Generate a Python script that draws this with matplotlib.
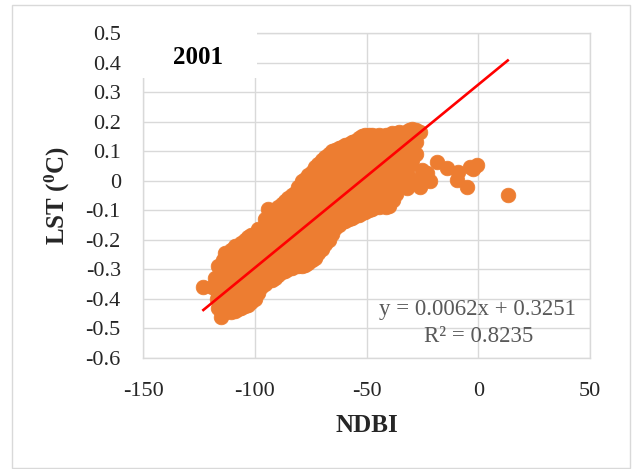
import numpy as np
import matplotlib.pyplot as plt
from matplotlib.patches import Rectangle

plt.rcParams["font.family"] = ["Liberation Serif", "DejaVu Serif"]
plt.rcParams["mathtext.fontset"] = "custom"
plt.rcParams["mathtext.rm"] = "Liberation Serif"
plt.rcParams["mathtext.bf"] = "Liberation Serif:bold"

# -----------------------------------------------------------------------------
# Data (column by column across the cloud)
# -----------------------------------------------------------------------------
ndbi = [
    -123, -119,
    -118, -117, -117,
    -116.5, -116.5, -116.5, -116.5,
    -115, -115, -115, -114, -114,
    -113.5, -113.5, -113.5, -113.5, -113.5, -113.5,
    -112, -112, -112, -112, -112,
    -110.5, -110.5, -110.5, -110.5, -110.5, -110.5,
    -109, -109, -109, -109, -109, -109,
    -107.5, -107.5, -107.5, -107.5, -107.5, -107.5,
    -106, -106, -106, -106, -106, -106,
    -104.5, -104.5, -104.5, -104.5, -104.5, -104.5,
    -103, -103, -103, -103, -103, -103,
    -101.5, -101.5, -101.5, -101.5, -101.5, -101.5,
    -100, -100, -100, -100, -100, -100,
    -98.5, -98.5, -98.5, -98.5, -98.5, -98.5,
    -97, -97, -97, -97, -97,
    -95.5, -95.5, -95.5, -95.5, -95.5, -95.5,
    -94, -94, -94, -94, -94, -94,
    -92.5, -92.5, -92.5, -92.5, -92.5, -92.5,
    -91, -91, -91, -91, -91, -91,
    -89.5, -89.5, -89.5, -89.5, -89.5, -89.5,
    -88, -88, -88, -88, -88, -88,
    -86.5, -86.5, -86.5, -86.5, -86.5, -86.5,
    -85, -85, -85, -85, -85, -85,
    -83.5, -83.5, -83.5, -83.5, -83.5, -83.5,
    -82, -82, -82, -82, -82, -82,
    -80.5, -80.5, -80.5, -80.5, -80.5, -80.5, -80.5,
    -79, -79, -79, -79, -79, -79, -79,
    -77.5, -77.5, -77.5, -77.5, -77.5, -77.5, -77.5,
    -76, -76, -76, -76, -76, -76, -76,
    -74.5, -74.5, -74.5, -74.5, -74.5, -74.5, -74.5,
    -73, -73, -73, -73, -73, -73, -73,
    -71.5, -71.5, -71.5, -71.5, -71.5, -71.5, -71.5,
    -70, -70, -70, -70, -70, -70, -70,
    -68.5, -68.5, -68.5, -68.5, -68.5, -68.5, -68.5,
    -67, -67, -67, -67, -67, -67, -67,
    -65.5, -65.5, -65.5, -65.5, -65.5, -65.5, -65.5,
    -64, -64, -64, -64, -64, -64, -64,
    -62.5, -62.5, -62.5, -62.5, -62.5, -62.5, -62.5,
    -61, -61, -61, -61, -61, -61,
    -59.5, -59.5, -59.5, -59.5, -59.5, -59.5, -59.5,
    -58, -58, -58, -58, -58, -58,
    -56.5, -56.5, -56.5, -56.5, -56.5, -56.5, -56.5,
    -55, -55, -55, -55, -55, -55,
    -53.5, -53.5, -53.5, -53.5, -53.5, -53.5, -53.5,
    -52, -52, -52, -52, -52, -52,
    -50.5, -50.5, -50.5, -50.5, -50.5, -50.5, -50.5,
    -49, -49, -49, -49, -49, -49,
    -47.5, -47.5, -47.5, -47.5, -47.5, -47.5, -47.5,
    -46, -46, -46, -46, -46, -46,
    -44.5, -44.5, -44.5, -44.5, -44.5, -44.5, -44.5,
    -43, -43, -43, -43, -43, -43,
    -41.5, -41.5, -41.5, -41.5, -41.5, -41.5, -41.5,
    -40, -40, -40, -40, -40, -40,
    -38.5, -38.5, -38.5, -38.5, -38.5, -38.5,
    -38, -37, -37, -37, -37, -37,
    -35.5, -35.5, -35.5, -35.5, -35.5,
    -34, -34, -34, -34,
    -32.5, -32.5, -32.5, -32.5,
    -31, -31, -31, -31,
    -29.5, -29.5, -29.5, -29.5,
    -28, -28, -28, -26,
    # tail to the right
    -32, -30.6, -27.5, -26, -25, -23, -21.6, -18.6, -14, -9.6, -9,
    -5, -3.8, -2.4, -0.6, 13.2,
]
lst = [
    -0.36, -0.36,
    -0.33, -0.37, -0.40,
    -0.43, -0.385, -0.335, -0.29,
    -0.46, -0.41, -0.36, -0.31, -0.27,
    -0.445, -0.415, -0.365, -0.315, -0.27, -0.245,
    -0.44, -0.39, -0.34, -0.29, -0.25,
    -0.445, -0.42, -0.375, -0.325, -0.28, -0.235,
    -0.44, -0.40, -0.35, -0.30, -0.26, -0.22,
    -0.435, -0.405, -0.355, -0.305, -0.26, -0.22,
    -0.43, -0.38, -0.33, -0.28, -0.24, -0.21,
    -0.425, -0.395, -0.345, -0.295, -0.25, -0.20,
    -0.42, -0.37, -0.32, -0.27, -0.23, -0.19,
    -0.41, -0.375, -0.325, -0.275, -0.23, -0.185,
    -0.40, -0.35, -0.30, -0.25, -0.21, -0.18,
    -0.38, -0.335, -0.285, -0.24, -0.195, -0.165,
    -0.36, -0.31, -0.26, -0.22, -0.17,
    -0.35, -0.315, -0.265, -0.215, -0.165, -0.13,
    -0.34, -0.29, -0.24, -0.19, -0.14, -0.095,
    -0.335, -0.305, -0.255, -0.205, -0.16, -0.115,
    -0.33, -0.28, -0.23, -0.18, -0.14, -0.10,
    -0.32, -0.285, -0.235, -0.185, -0.14, -0.09,
    -0.31, -0.26, -0.21, -0.16, -0.12, -0.08,
    -0.305, -0.275, -0.225, -0.175, -0.125, -0.07,
    -0.30, -0.25, -0.20, -0.15, -0.10, -0.06,
    -0.295, -0.265, -0.215, -0.165, -0.115, -0.05,
    -0.29, -0.24, -0.19, -0.14, -0.09, -0.04,
    -0.29, -0.265, -0.215, -0.165, -0.115, -0.065, -0.02,
    -0.29, -0.24, -0.19, -0.14, -0.09, -0.045, 0.0,
    -0.285, -0.255, -0.205, -0.155, -0.105, -0.055, 0.005,
    -0.28, -0.23, -0.18, -0.13, -0.08, -0.03, 0.02,
    -0.27, -0.245, -0.195, -0.145, -0.095, -0.045, 0.03,
    -0.26, -0.21, -0.16, -0.11, -0.06, -0.01, 0.045,
    -0.245, -0.21, -0.16, -0.11, -0.06, -0.01, 0.055,
    -0.23, -0.18, -0.13, -0.08, -0.03, 0.02, 0.07,
    -0.215, -0.18, -0.13, -0.08, -0.03, 0.02, 0.08,
    -0.20, -0.15, -0.10, -0.05, 0.0, 0.05, 0.09,
    -0.18, -0.145, -0.095, -0.045, 0.005, 0.055, 0.10,
    -0.16, -0.11, -0.06, -0.01, 0.04, 0.08, 0.105,
    -0.15, -0.115, -0.065, -0.015, 0.035, 0.085, 0.11,
    -0.14, -0.09, -0.04, 0.01, 0.06, 0.115,
    -0.135, -0.105, -0.055, -0.005, 0.045, 0.095, 0.12,
    -0.13, -0.08, -0.03, 0.02, 0.07, 0.125,
    -0.125, -0.095, -0.045, 0.005, 0.055, 0.105, 0.13,
    -0.12, -0.07, -0.02, 0.03, 0.08, 0.135,
    -0.115, -0.085, -0.035, 0.015, 0.065, 0.115, 0.145,
    -0.11, -0.06, -0.01, 0.04, 0.09, 0.15,
    -0.105, -0.075, -0.025, 0.025, 0.075, 0.125, 0.155,
    -0.10, -0.05, 0.0, 0.05, 0.10, 0.155,
    -0.095, -0.065, -0.015, 0.035, 0.085, 0.13, 0.155,
    -0.09, -0.04, 0.01, 0.06, 0.11, 0.15,
    -0.09, -0.06, -0.015, 0.035, 0.085, 0.13, 0.155,
    -0.085, -0.04, 0.01, 0.06, 0.11, 0.15,
    -0.09, -0.06, -0.015, 0.035, 0.085, 0.13, 0.155,
    -0.085, -0.04, 0.01, 0.06, 0.11, 0.155,
    -0.06, -0.02, 0.025, 0.075, 0.125, 0.16,
    -0.065, -0.045, 0.0, 0.05, 0.10, 0.155,
    -0.01, 0.035, 0.085, 0.135, 0.165,
    0.01, 0.06, 0.11, 0.16,
    0.03, 0.075, 0.125, 0.165,
    0.05, 0.10, 0.15, 0.17,
    0.07, 0.11, 0.15, 0.175,
    0.09, 0.13, 0.17, 0.165,
    -0.025, 0.01, -0.005, -0.02, 0.036, 0.025, 0.0, 0.063, 0.043, 0.002, 0.03,
    -0.02, 0.047, 0.04, 0.053, -0.048,
]

slope, intercept, r2 = 0.0062, 0.3251, 0.8235
x_ticks = [-150, -100, -50, 0, 50]
y_ticks = [-0.6, -0.5, -0.4, -0.3, -0.2, -0.1, 0, 0.1, 0.2, 0.3, 0.4, 0.5]

orange = "#ED7D31"
grid_c = "#D9D9D9"
text_c = "#262626"

# -----------------------------------------------------------------------------
# Figure
# -----------------------------------------------------------------------------
fig = plt.figure(figsize=(6.34, 4.69), dpi=100)
ax = fig.add_axes([0.2256, 0.2367, 0.705, 0.693])

ax.scatter(ndbi, lst, s=112, color=orange, edgecolors=orange, linewidths=0.5,
           zorder=3)

xf = np.array([min(ndbi), max(ndbi)])
ax.plot(xf, slope * xf + intercept, color="#FF0000", lw=1.9, zorder=4)

ax.set_xlim(-150, 50)
ax.set_ylim(-0.6, 0.5)
ax.set_xticks(x_ticks)
ax.set_yticks(y_ticks)
ax.set_xticklabels([f"{t:g}" for t in x_ticks])
ax.set_yticklabels([f"{t:g}" for t in y_ticks])
ax.tick_params(length=0, labelsize=16, labelcolor=text_c)
ax.tick_params(axis="y", pad=16)
ax.tick_params(axis="x", pad=17)
ax.grid(True, color=grid_c, lw=1, zorder=0)
ax.set_axisbelow(True)
for sp in ax.spines.values():
    sp.set_color(grid_c)
    sp.set_linewidth(1)

ax.set_xlabel("NDBI", fontsize=18, fontweight="bold", color=text_c)
ax.set_ylabel(r"LST ($\mathbf{^{0}}$C)", fontsize=18, fontweight="bold",
              color=text_c)
ax.xaxis.set_label_coords(0.501, -0.172)
ax.yaxis.set_label_coords(-0.16, 0.5)

# white title box hiding the top-left gridlines
ax.add_patch(Rectangle((-0.01, 0.862), 0.265, 0.16, transform=ax.transAxes,
                       facecolor="white", edgecolor="none", clip_on=False,
                       zorder=5))
ax.text(0.123, 0.926, "2001", transform=ax.transAxes, ha="center",
        va="center", fontsize=18, fontweight="bold", color="black", zorder=6)

ax.text(0.748, 0.148, f"y = {slope}x + {intercept}", transform=ax.transAxes,
        ha="center", va="center", fontsize=16.5, color="#595959", zorder=6)
ax.text(0.75, 0.065, f"R² = {r2}", transform=ax.transAxes,
        ha="center", va="center", fontsize=16.5, color="#595959", zorder=6)

# outer chart border
fig.patches.append(Rectangle((12 / 634, 1 / 469), 618 / 634, 463 / 469,
                             transform=fig.transFigure, facecolor="none",
                             edgecolor=grid_c, lw=1))

fig.savefig("out.png", dpi=100)
